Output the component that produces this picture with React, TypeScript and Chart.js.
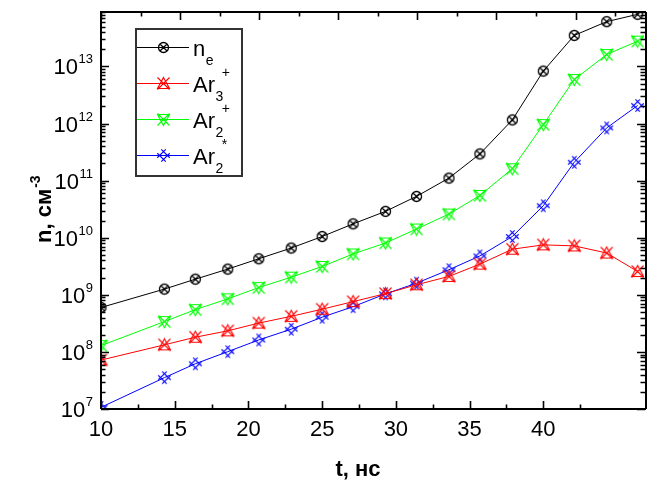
import React, { useEffect, useRef } from 'react';
import { Chart, registerables } from 'chart.js';

Chart.register(...registerables);

// ---- data ----
const tValues = [10, 14.3, 16.4, 18.6, 20.7, 22.9, 25.0, 27.1, 29.3, 31.4, 33.6, 35.7, 37.9, 40.0, 42.1, 44.3, 46.4];
const neValues = [6.0e8, 1.26e9, 1.88e9, 2.82e9, 4.28e9, 6.6e9, 1.05e10, 1.75e10, 2.9e10, 5.3e10, 1.11e11, 2.94e11, 1.16e12, 8.3e12, 3.5e13, 6.1e13, 8.2e13];
const ar3pValues = [7.2e7, 1.33e8, 1.81e8, 2.34e8, 3.2e8, 4.2e8, 5.6e8, 7.6e8, 1.05e9, 1.5e9, 2.1e9, 3.45e9, 6.3e9, 7.5e9, 7.2e9, 5.4e9, 2.56e9];
const ar2pValues = [1.29e8, 3.4e8, 5.5e8, 8.5e8, 1.34e9, 2.04e9, 3.14e9, 5.2e9, 8.1e9, 1.42e10, 2.6e10, 5.5e10, 1.62e11, 9.6e11, 5.9e12, 1.62e13, 2.78e13];
const ar2sValues = [1.07e7, 3.54e7, 6.2e7, 1.01e8, 1.62e8, 2.5e8, 4.06e8, 6.2e8, 1.04e9, 1.6e9, 2.75e9, 4.8e9, 1.05e10, 3.64e10, 2.1e11, 8.4e11, 2.07e12];

const seriesValues = [neValues, ar3pValues, ar2pValues, ar2sValues];
const seriesBase = ['n', 'Ar', 'Ar', 'Ar'];
const seriesSub = ['e', '3', '2', '2'];
const seriesSup = ['', '+', '+', '*'];
const seriesColors = ['#000000', '#ff0000', '#00ff00', '#0000ff'];
const seriesMarkers = ['circleX', 'triUpX', 'triDownX', 'hashX'];

const xTickLabels = ['10', '15', '20', '25', '30', '35', '40'];
const xTickValues = [10, 15, 20, 25, 30, 35, 40];
const yExponents = [7, 8, 9, 10, 11, 12, 13];
const xTitle = 't, нс';
const yTitle = 'n, см';
const yTitleSup = '-3';

const FONT = '"Liberation Sans", Arial, Helvetica, sans-serif';

function makeMarker(kind: string, color: string): HTMLCanvasElement {
  const c = document.createElement('canvas');
  c.width = 15;
  c.height = 15;
  const g = c.getContext('2d') as CanvasRenderingContext2D;
  g.strokeStyle = color;
  g.lineWidth = 1.1;
  const cx = 7.5, cy = 7.5;
  g.beginPath();
  if (kind === 'circleX') {
    g.lineWidth = 1.3;
    g.arc(cx, cy, 5, 0, Math.PI * 2);
    const d = 3.5;
    g.moveTo(cx - d, cy - d); g.lineTo(cx + d, cy + d);
    g.moveTo(cx + d, cy - d); g.lineTo(cx - d, cy + d);
  } else if (kind === 'triUpX') {
    g.moveTo(cx, cy - 6); g.lineTo(cx + 6, cy + 5); g.lineTo(cx - 6, cy + 5); g.closePath();
    g.moveTo(cx - 6, cy - 6); g.lineTo(cx + 6, cy + 6);
    g.moveTo(cx + 6, cy - 6); g.lineTo(cx - 6, cy + 6);
  } else if (kind === 'triDownX') {
    g.moveTo(cx, cy + 6); g.lineTo(cx + 6, cy - 5); g.lineTo(cx - 6, cy - 5); g.closePath();
    g.moveTo(cx - 6, cy - 6); g.lineTo(cx + 6, cy + 6);
    g.moveTo(cx + 6, cy - 6); g.lineTo(cx - 6, cy + 6);
  } else {
    const r = Math.SQRT1_2;
    const L = 6;
    for (const s of [-2.8, 2.8]) {
      let ox = cx + s * r, oy = cy - s * r;
      g.moveTo(ox - L * r, oy - L * r); g.lineTo(ox + L * r, oy + L * r);
      ox = cx + s * r; oy = cy + s * r;
      g.moveTo(ox - L * r, oy + L * r); g.lineTo(ox + L * r, oy - L * r);
    }
  }
  g.stroke();
  return c;
}

const decorPlugin = {
  id: 'decor',
  afterDatasetsDraw(chart: any) {
    const ctx: CanvasRenderingContext2D = chart.ctx;
    const { left, right, top, bottom } = chart.chartArea;
    const xs = chart.scales.x;
    const x2 = chart.scales.x2;
    const ys = chart.scales.y;
    ctx.save();
    ctx.strokeStyle = '#000';
    ctx.fillStyle = '#000';

    // frame
    ctx.lineWidth = 2;
    ctx.beginPath();
    ctx.moveTo(left, bottom); ctx.lineTo(left, top); ctx.lineTo(right + 2, top);
    ctx.moveTo(left, bottom); ctx.lineTo(right + 2, bottom);
    ctx.moveTo(right + 2, top); ctx.lineTo(right + 2, bottom);
    ctx.stroke();

    // bottom ticks (inward)
    ctx.lineWidth = 1.6;
    ctx.beginPath();
    for (const v of xTickValues) {
      const px = Math.round(xs.getPixelForValue(v)) + 0.5;
      ctx.moveTo(px, bottom); ctx.lineTo(px, bottom - 8);
      const pm = Math.round(xs.getPixelForValue(v + 2.5)) + 0.5;
      ctx.moveTo(pm, bottom); ctx.lineTo(pm, bottom - 4.5);
    }
    // top ticks
    for (let v = x2.min; v <= x2.max + 1e-9; v += 2.5) {
      const px = Math.round(x2.getPixelForValue(v)) + 0.5;
      const major = Math.abs(v % 5) < 1e-6;
      ctx.moveTo(px, top); ctx.lineTo(px, top + (major ? 8 : 4.5));
    }
    // left / right log ticks
    for (let e = 6; e <= 14; e++) {
      for (let m = 1; m <= 9; m++) {
        const v = m * Math.pow(10, e);
        if (v < ys.min * 0.999 || v > ys.max * 1.001) continue;
        const py = Math.round(ys.getPixelForValue(v)) + 0.5;
        const len = m === 1 ? 8 : 4.5;
        ctx.moveTo(left, py); ctx.lineTo(left + len, py);
        ctx.moveTo(right + 1, py); ctx.lineTo(right + 1 - len, py);
      }
    }
    ctx.stroke();

    // x tick labels
    ctx.font = `22px ${FONT}`;
    ctx.textAlign = 'center';
    ctx.textBaseline = 'alphabetic';
    xTickValues.forEach((v, i) => {
      ctx.fillText(xTickLabels[i], xs.getPixelForValue(v), 436);
    });

    // y tick labels 10^n
    const labelRight = 93;
    yExponents.forEach((e) => {
      const py = ys.getPixelForValue(Math.pow(10, e));
      ctx.font = `13px ${FONT}`;
      const sup = String(e);
      const sw = ctx.measureText(sup).width;
      ctx.textAlign = 'left';
      ctx.fillText(sup, labelRight - sw, py - 3);
      ctx.font = `22px ${FONT}`;
      ctx.textAlign = 'right';
      ctx.fillText('10', labelRight - sw - 0.5, py + 8);
    });

    // axis titles
    ctx.font = `bold 22px ${FONT}`;
    ctx.textAlign = 'center';
    ctx.fillText(xTitle, 358, 476);

    ctx.save();
    ctx.translate(51, 243);
    ctx.rotate(-Math.PI / 2);
    ctx.textAlign = 'left';
    ctx.font = `bold 22px ${FONT}`;
    ctx.fillText(yTitle, 0, 0);
    const tw = ctx.measureText(yTitle).width;
    ctx.font = `bold 14px ${FONT}`;
    ctx.fillText(yTitleSup, tw + 1, -11);
    ctx.restore();

    // legend
    const bx = 136, by = 29, bw = 106, bh = 147;
    ctx.fillStyle = '#fff';
    ctx.fillRect(bx, by, bw, bh);
    ctx.strokeStyle = '#333';
    ctx.lineWidth = 2;
    ctx.strokeRect(bx, by, bw, bh);
    chart.data.datasets.forEach((ds: any, i: number) => {
      const yRow = Math.round(by + 18 + i * 36) + 0.5;
      ctx.strokeStyle = ds.borderColor;
      ctx.lineWidth = 1;
      ctx.beginPath();
      ctx.moveTo(bx + 1, yRow); ctx.lineTo(189, yRow);
      ctx.stroke();
      const img = ds.pointStyle as HTMLCanvasElement;
      ctx.drawImage(img, 163.5 - img.width / 2, yRow - img.height / 2);
      ctx.fillStyle = '#000';
      ctx.textAlign = 'left';
      const base = yRow + 8;
      ctx.font = `22px ${FONT}`;
      ctx.fillText(seriesBase[i], 193, base);
      const w1 = ctx.measureText(seriesBase[i]).width;
      ctx.font = `14px ${FONT}`;
      ctx.fillText(seriesSub[i], 193 + w1 + 0.5, base + 9.5);
      const w2 = ctx.measureText(seriesSub[i]).width;
      if (seriesSup[i]) {
        ctx.fillText(seriesSup[i], 193 + w1 + w2 - 1, base - 15);
      }
    });

    ctx.restore();
  },
};

export default function App() {
  const ref = useRef<HTMLCanvasElement>(null);
  useEffect(() => {
    const canvas = ref.current as HTMLCanvasElement;
    const markers = seriesMarkers.map((k, i) => makeMarker(k, seriesColors[i]));
    const chart = new Chart(canvas, {
      type: 'line',
      data: {
        datasets: seriesValues.map((vals, i) => ({
          label: seriesBase[i] + seriesSub[i] + seriesSup[i],
          data: tValues.map((t, j) => ({ x: t, y: vals[j] })),
          borderColor: seriesColors[i],
          backgroundColor: seriesColors[i],
          borderWidth: 1,
          pointStyle: markers[i] as any,
          pointRadius: 6,
          tension: 0,
        })),
      },
      options: {
        responsive: false,
        animation: false,
        devicePixelRatio: 1,
        events: [],
        layout: { padding: { left: 101, top: 12, right: 0, bottom: 72 } },
        plugins: { legend: { display: false }, tooltip: { enabled: false } },
        scales: {
          x: { type: 'linear', min: 10, max: 46.83, display: false },
          x2: { type: 'linear', position: 'top', min: 10, max: 44.33, display: false },
          y: { type: 'logarithmic', min: 1e7, max: 9e13, display: false },
        },
      },
      plugins: [decorPlugin],
    } as any);
    return () => chart.destroy();
  }, []);
  return (
    <div style={{ position: 'absolute', left: 0, top: 0, width: 651, height: 481, background: '#fff' }}>
      <canvas ref={ref} width={651} height={481} style={{ display: 'block' }} />
    </div>
  );
}
